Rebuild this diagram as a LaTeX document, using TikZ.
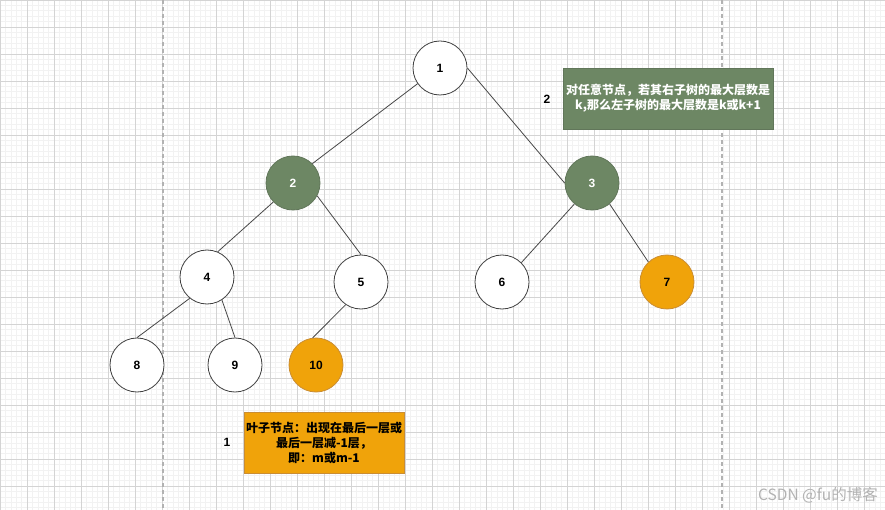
\documentclass[tikz,border=0pt]{standalone}
\usepackage{fontspec}
\setmainfont{Liberation Sans}
\newfontfamily\cjk{Noto Sans CJK SC}
\definecolor{sage}{HTML}{6D8764}
\definecolor{sageline}{HTML}{3A5431}
\definecolor{amber}{HTML}{F0A30A}
\definecolor{amberline}{HTML}{BD7000}
\definecolor{gridmajor}{HTML}{D4D4D4}
\definecolor{gridminor}{HTML}{F2F2F2}
\begin{document}
\begin{tikzpicture}[x=1pt,y=-1pt,
  every node/.style={font=\bfseries\fontsize{12}{15}\selectfont},
  vert/.style={circle,draw=black!75,line width=0.8pt,fill=white,minimum size=54pt,inner sep=0pt},
  greenvert/.style={vert,draw=sageline!80,fill=sage,text=white},
  orangevert/.style={vert,draw=amberline!80,fill=amber},
  link/.style={draw=black!72,line width=0.8pt}]
% background and grid
\fill[white] (0,0) rectangle (885,510);
\useasboundingbox (0,0) rectangle (885,510);
\foreach \x in {0,5.4,...,885} \draw[gridminor,line width=0.6pt] (\x,0) -- (\x,510);
\foreach \y in {0,5.4,...,510} \draw[gridminor,line width=0.6pt] (0,\y) -- (885,\y);
\foreach \x in {0,27,...,885} \draw[gridmajor,line width=0.8pt] (\x,0) -- (\x,510);
\foreach \y in {0,27,...,510} \draw[gridmajor,line width=0.8pt] (0,\y) -- (885,\y);
\draw[black!30,line width=1.4pt,dash pattern=on 4pt off 3pt] (163,0) -- (163,510);
\draw[black!30,line width=1.4pt,dash pattern=on 4pt off 3pt] (722,0) -- (722,510);
% tree
\node[vert] (n1) at (440,68) {1};
\node[greenvert] (n2) at (293,183) {2};
\node[greenvert] (n3) at (592,183) {3};
\node[vert] (n4) at (207,277) {4};
\node[vert] (n5) at (361,282) {5};
\node[vert] (n6) at (502,282) {6};
\node[orangevert] (n7) at (667,282) {7};
\node[vert] (n8) at (137,365) {8};
\node[vert] (n9) at (235,365) {9};
\node[orangevert] (n10) at (316,365) {10};
\draw[link] (n1.215) -- (n2.45);
\draw[link] (n1.east) -- (n3.west);
\draw[link] (n2.224) -- (n4.67);
\draw[link] (n2.-28) -- (n5.north);
\draw[link] (n3.230) -- (n6.45);
\draw[link] (n3.-50) -- (n7.133);
\draw[link] (n4.231) -- (n8.north);
\draw[link] (n4.-57) -- (n9.north);
\draw[link] (n5.236) -- (n10.97);
% notes
\node[draw=sageline!80,fill=sage,text=white,minimum width=210pt,minimum height=61pt,align=center,inner sep=1pt] (tip) at (668,98.5) {\cjk 对任意节点，若其右子树的最大层数是\\\cjk k,那么左子树的最大层数是k或k+1};
\node (tipnum) at (547,99) {2};
\node[draw=amberline!80,fill=amber,minimum width=160pt,minimum height=61pt,align=center,inner sep=1pt] (leaf) at (324,442.5) {\cjk 叶子节点：出现在最后一层或\\\cjk 最后一层减-1层，\\\cjk 即：m或m-1};
\node (leafnum) at (227,442) {1};
\node[font=\cjk\fontsize{15.5}{17}\selectfont,text=black!30] (mark) at (818,495) {CSDN @fu的博客};
\end{tikzpicture}
\end{document}
